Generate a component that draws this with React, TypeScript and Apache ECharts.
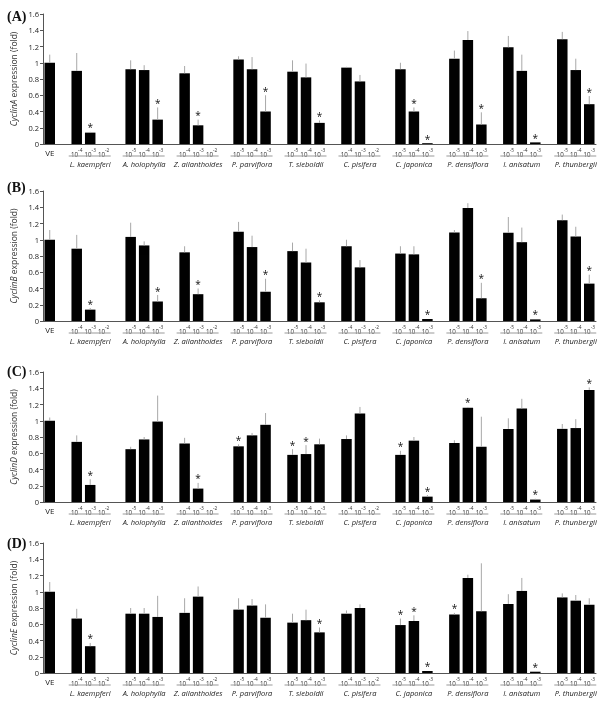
import React, { useEffect, useRef } from "react";
import * as echarts from "echarts";

// ---------- data ----------
const species = [
  "L. kaempferi", "A. holophylla", "Z. ailanthoides", "P. parviflora", "T. sieboldii",
  "C. pisifera", "C. japonica", "P. densiflora", "I. anisatum", "P. thunbergii",
];
const concExponents = [
  ["-4", "-3", "-2"], ["-5", "-4", "-3"], ["-4", "-3", "-2"], ["-5", "-4", "-3"], ["-5", "-4", "-3"],
  ["-4", "-3", "-2"], ["-5", "-4", "-3"], ["-5", "-4", "-3"], ["-5", "-4", "-3"], ["-5", "-4", "-3"],
];
const genes = ["CyclinA", "CyclinB", "CyclinD", "CyclinE"];
const panelLetters = ["(A)", "(B)", "(C)", "(D)"];

// order: VE, then each species x 3 concentrations
const cyclinA_mean = [1.0, 0.9, 0.14, 0, 0.92, 0.91, 0.3, 0.87, 0.23, 0, 1.04, 0.92, 0.4, 0.89, 0.82, 0.26, 0.94, 0.77, 0, 0.92, 0.4, 0.01, 1.05, 1.28, 0.24, 1.19, 0.9, 0.02, 1.29, 0.91, 0.49];
const cyclinA_sd = [0.1, 0.22, 0.01, 0, 0.11, 0.06, 0.15, 0.09, 0.07, 0, 0.04, 0.15, 0.2, 0.14, 0.17, 0.03, 0.01, 0.08, 0, 0.08, 0.05, 0, 0.1, 0.11, 0.15, 0.14, 0.2, 0, 0.09, 0.14, 0.1];
const cyclinA_sig = [0, 0, 1, 0, 0, 0, 1, 0, 1, 0, 0, 0, 1, 0, 0, 1, 0, 0, 0, 0, 1, 1, 0, 0, 1, 0, 0, 1, 0, 0, 1];

const cyclinB_mean = [1.0, 0.89, 0.14, 0, 1.035, 0.93, 0.24, 0.845, 0.33, 0, 1.1, 0.91, 0.36, 0.86, 0.72, 0.23, 0.92, 0.66, 0, 0.83, 0.82, 0.025, 1.09, 1.39, 0.28, 1.085, 0.97, 0.02, 1.24, 1.04, 0.46];
const cyclinB_sd = [0.12, 0.17, 0.02, 0, 0.175, 0.05, 0.08, 0.075, 0.07, 0, 0.12, 0.14, 0.16, 0.105, 0.17, 0.025, 0.08, 0.09, 0, 0.09, 0.1, 0.005, 0.03, 0.06, 0.19, 0.195, 0.18, 0.005, 0.07, 0.12, 0.11];
const cyclinB_sig = [0, 0, 1, 0, 0, 0, 1, 0, 1, 0, 0, 0, 1, 0, 0, 1, 0, 0, 0, 0, 0, 1, 0, 0, 1, 0, 0, 1, 0, 0, 1];

const cyclinD_mean = [1.0, 0.74, 0.21, 0, 0.65, 0.77, 0.99, 0.72, 0.165, 0, 0.685, 0.82, 0.95, 0.58, 0.59, 0.71, 0.775, 1.09, 0, 0.58, 0.755, 0.066, 0.726, 1.16, 0.68, 0.9, 1.15, 0.03, 0.9, 0.91, 1.38];
const cyclinD_sd = [0.04, 0.08, 0.07, 0, 0.03, 0.03, 0.32, 0.07, 0.07, 0, 0.025, 0.03, 0.145, 0.07, 0.11, 0.07, 0.045, 0.08, 0, 0.05, 0.045, 0.02, 0.034, 0.01, 0.37, 0.13, 0.12, 0.01, 0.06, 0.11, 0.03];
const cyclinD_sig = [0, 0, 1, 0, 0, 0, 0, 0, 1, 0, 1, 0, 0, 1, 1, 0, 0, 0, 0, 1, 0, 1, 0, 1, 0, 0, 0, 1, 0, 0, 1];

const cyclinE_mean = [1.0, 0.67, 0.33, 0, 0.73, 0.73, 0.69, 0.74, 0.94, 0, 0.78, 0.83, 0.68, 0.62, 0.65, 0.5, 0.73, 0.8, 0, 0.59, 0.64, 0.025, 0.72, 1.17, 0.76, 0.85, 1.01, 0.016, 0.93, 0.89, 0.84];
const cyclinE_sd = [0.12, 0.12, 0.04, 0, 0.07, 0.07, 0.26, 0.18, 0.125, 0, 0.14, 0.08, 0.165, 0.11, 0.13, 0.06, 0.04, 0.045, 0, 0.08, 0.07, 0.005, 0.02, 0.04, 0.59, 0.12, 0.16, 0.004, 0.05, 0.07, 0.08];
const cyclinE_sig = [0, 0, 1, 0, 0, 0, 0, 0, 0, 0, 0, 0, 0, 0, 0, 1, 0, 0, 0, 1, 1, 1, 1, 0, 0, 0, 0, 1, 0, 0, 0];

const panels = [
  { mean: cyclinA_mean, sd: cyclinA_sd, sig: cyclinA_sig },
  { mean: cyclinB_mean, sd: cyclinB_sd, sig: cyclinB_sig },
  { mean: cyclinD_mean, sd: cyclinD_sd, sig: cyclinD_sig },
  { mean: cyclinE_mean, sd: cyclinE_sd, sig: cyclinE_sig },
];

// ---------- layout (styles only) ----------
const gridTops = [14, 191, 372, 543];
const letterTops = [9, 180, 364, 536];
const gridHeight = 130;
const FONT = "'Open Sans', sans-serif";

// slot mapping: VE at slot 0; group g at slots 2+4g .. 4+4g
const slotCount = 2 + 4 * species.length - 1; // 41
const slotOf = (i: number) => (i === 0 ? 0 : 2 + 4 * Math.floor((i - 1) / 3) + ((i - 1) % 3));
const slotLabels: string[] = Array.from({ length: slotCount }, () => "");
slotLabels[0] = "VE";
species.forEach((_, g) => {
  concExponents[g].forEach((e, k) => {
    slotLabels[2 + 4 * g + k] = "10^" + e;
  });
});
const categories = slotLabels.map((_, i) => String(i));

export default function App() {
  const ref = useRef<HTMLDivElement>(null);
  useEffect(() => {
    if (!ref.current) return;
    const chart = echarts.init(ref.current, null, { renderer: "svg" });

    const grids: any[] = [];
    const xAxes: any[] = [];
    const yAxes: any[] = [];
    const series: any[] = [];
    const graphics: any[] = [];

    panels.forEach((p, pi) => {
      grids.push({ left: 43, width: 553, top: gridTops[pi], height: gridHeight });
      xAxes.push({
        type: "category",
        gridIndex: pi,
        data: categories,
        axisLine: { lineStyle: { color: "#555", width: 1 } },
        axisTick: { show: false },
        axisLabel: {
          interval: 0,
          margin: 3,
          color: "#222",
          fontFamily: FONT,
          formatter: (v: string) => {
            const lab = slotLabels[+v];
            if (!lab) return "";
            if (lab === "VE") return "{v|VE}";
            return "{a|10}{s|" + lab.split("^")[1] + "}";
          },
          rich: {
            v: { fontSize: 8, fontFamily: FONT, color: "#222", lineHeight: 10 },
            a: { fontSize: 6.2, fontFamily: FONT, color: "#333", lineHeight: 10, verticalAlign: "bottom" },
            s: { fontSize: 4.8, fontFamily: FONT, color: "#333", lineHeight: 10, verticalAlign: "top", padding: [0, 0, 3, 0] },
          },
        },
      });
      yAxes.push({
        type: "value",
        gridIndex: pi,
        min: 0,
        max: 1.6,
        interval: 0.2,
        name: "{i|" + genes[pi] + "}{n| expression (fold)}",
        nameLocation: "middle",
        nameRotate: 90,
        nameGap: 21,
        nameTextStyle: {
          fontSize: 8.5,
          fontFamily: FONT,
          color: "#333",
          rich: {
            i: { fontSize: 8.5, fontFamily: FONT, fontStyle: "italic", color: "#333" },
            n: { fontSize: 8.5, fontFamily: FONT, color: "#333" },
          },
        },
        axisLine: { show: true, lineStyle: { color: "#555", width: 1 } },
        axisTick: { show: true, length: 3, lineStyle: { color: "#555" } },
        splitLine: { show: false },
        axisLabel: {
          fontSize: 7.5,
          fontFamily: FONT,
          color: "#222",
          margin: 4,
          formatter: (v: number) => String(+v.toFixed(1)),
        },
      });

      const barData: any[] = Array.from({ length: slotCount }, () => "-");
      const errData: any[] = [];
      p.mean.forEach((m, i) => {
        const s = slotOf(i);
        if (m > 0) barData[s] = m;
        if (m > 0 || p.sig[i]) errData.push([s, m, m + p.sd[i], p.sig[i]]);
      });

      series.push({
        type: "bar",
        xAxisIndex: pi,
        yAxisIndex: pi,
        data: barData,
        barWidth: 10.5,
        itemStyle: { color: "#000" },
        silent: true,
      });

      series.push({
        type: "custom",
        xAxisIndex: pi,
        yAxisIndex: pi,
        data: errData,
        encode: { x: 0, y: [1, 2] },
        clip: false,
        silent: true,
        z: 3,
        itemStyle: { color: "#111" },
        renderItem: (params: any, api: any) => {
          const s = api.value(0);
          const m = api.value(1);
          const t = api.value(2);
          const sig = api.value(3);
          const p0 = api.coord([s, m]);
          const p1 = api.coord([s, t]);
          const children: any[] = [];
          if (p0[1] - p1[1] > 0.5) {
            children.push({
              type: "line",
              shape: { x1: p0[0], y1: p0[1], x2: p1[0], y2: p1[1] },
              style: { stroke: "#a8a8a8", lineWidth: 1, fill: null },
            });
          }
          if (sig) {
            children.push({
              type: "text",
              x: p1[0],
              y: Math.min(p1[1], p0[1]) + 0.5,
              style: {
                text: "*",
                fontSize: 10,
                fontFamily: FONT,
                fill: "#111",
                align: "center",
                verticalAlign: "bottom",
              },
            });
          }
          return { type: "group", children };
        },
      });

      const groupData = species.map((_, g) => [2 + 4 * g, 4 + 4 * g, 0]);
      series.push({
        type: "custom",
        xAxisIndex: pi,
        yAxisIndex: pi,
        data: groupData,
        encode: { x: [0, 1], y: 2 },
        clip: false,
        silent: true,
        itemStyle: { color: "#222" },
        renderItem: (params: any, api: any) => {
          const a = api.coord([api.value(0), 0]);
          const b = api.coord([api.value(1), 0]);
          const y = a[1];
          return {
            type: "group",
            children: [
              {
                type: "line",
                shape: { x1: a[0] - 8, y1: y + 12, x2: b[0] + 7, y2: y + 12 },
                style: { stroke: "#999", lineWidth: 1, fill: null },
              },
              {
                type: "text",
                x: (a[0] + b[0]) / 2,
                y: y + 19.5,
                style: {
                  text: species[params.dataIndex],
                  fontSize: 7.5,
                  fontFamily: FONT,
                  fontStyle: "italic",
                  fill: "#222",
                  align: "center",
                  verticalAlign: "middle",
                },
              },
            ],
          };
        },
      });

      graphics.push({
        type: "text",
        left: 7,
        top: letterTops[pi],
        style: {
          text: panelLetters[pi],
          font: 'bold 14px "Liberation Serif"',
          fill: "#111",
        },
      });
    });

    chart.setOption({
      animation: false,
      backgroundColor: "#fff",
      grid: grids,
      xAxis: xAxes,
      yAxis: yAxes,
      series,
      graphic: graphics,
    });
    return () => chart.dispose();
  }, []);
  return (
    <div
      ref={ref}
      style={{
        position: "fixed",
        left: 0,
        top: 0,
        width: 600,
        height: 703,
        background: "#fff",
        opacity: 0.999,
        willChange: "transform",
      }}
    />
  );
}
